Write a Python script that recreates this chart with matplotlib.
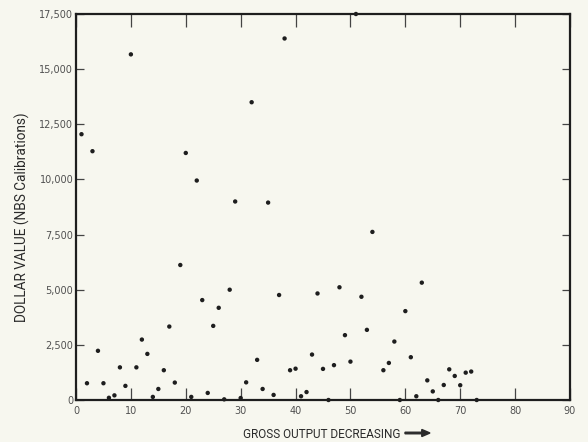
import matplotlib
matplotlib.use("Agg")
import matplotlib.pyplot as plt
from matplotlib.ticker import FuncFormatter

# Rank by gross output (decreasing) and dollar value of NBS calibrations
rank = [1, 2, 3, 4, 5, 6, 7, 8, 9, 10,
        11, 12, 13, 14, 15, 16, 17, 18, 19, 20,
        21, 22, 23, 24, 25, 26, 27, 28, 29, 30,
        31, 32, 33, 34, 35, 36, 37, 38, 39, 40,
        41, 42, 43, 44, 45, 46, 47, 48, 49, 50,
        51, 52, 53, 54, 56, 57, 58, 59, 60, 61,
        62, 63, 64, 65, 66, 67, 68, 69, 70, 71,
        72, 73]
dollar_value = [12050, 760, 11280, 2230, 760, 100, 210, 1480, 640, 15670,
                1480, 2740, 2090, 140, 500, 1350, 3330, 790, 6120, 11200,
                140, 9950, 4530, 320, 3360, 4180, 30, 5000, 9000, 90,
                800, 13500, 1820, 500, 8950, 230, 4760, 16390, 1350, 1420,
                170, 360, 2060, 4830, 1410, 0, 1580, 5110, 2940, 1740,
                17500, 4680, 3180, 7620, 1350, 1680, 2650, 0, 4030, 1940,
                170, 5320, 890, 390, 0, 680, 1390, 1090, 670, 1240,
                1290, 0]

x_ticks = [0, 10, 20, 30, 40, 50, 60, 70, 80, 90]
y_ticks = [0, 2500, 5000, 7500, 10000, 12500, 15000, 17500]

paper = "#f7f7ef"
ink = "#1e1e1e"
label_grey = "#505050"
title_font = ["Roboto", "DejaVu Sans"]

fig = plt.figure(figsize=(5.88, 4.42), dpi=100, facecolor=paper)
ax = fig.add_axes([76 / 588, 42 / 442, 494 / 588, 386 / 442], facecolor=paper)

ax.scatter(rank, dollar_value, s=10, color=ink, edgecolors="none", zorder=3,
           clip_on=False)

ax.set_xlim(0, 90)
ax.set_ylim(0, 17500)
ax.set_xticks(x_ticks)
ax.set_yticks(y_ticks)
ax.yaxis.set_major_formatter(FuncFormatter(lambda v, _: f"{int(v):,}"))

for side in ("left", "bottom", "top", "right"):
    ax.spines[side].set_color(ink)
    ax.spines[side].set_linewidth(1.6)

ax.tick_params(axis="x", direction="in", length=9, width=0.9, color="#444444",
               top=True, labelsize=7, labelcolor=label_grey, pad=4)
ax.tick_params(axis="y", direction="in", length=6, width=0.9, color="#444444",
               right=True, labelsize=7, labelcolor=label_grey, pad=2)

fig.text(22 / 588, 1 - 217 / 442, "DOLLAR VALUE (NBS Calibrations)",
         family=title_font, fontsize=9.8, color="#2a2a2a", rotation=90,
         ha="center", va="center")
fig.text(243 / 588, 1 - 438 / 442, "GROSS OUTPUT DECREASING",
         family=title_font, fontsize=8.5, color="#2a2a2a", ha="left",
         va="baseline")
fig.patches.append(matplotlib.patches.FancyArrow(
    405 / 588, 1 - 433 / 442, 25 / 588, 0, width=0.0035, head_width=0.016,
    head_length=0.014, length_includes_head=True, color="#2a2a2a",
    transform=fig.transFigure, figure=fig))

fig.savefig("out.png", dpi=100, facecolor=paper)
